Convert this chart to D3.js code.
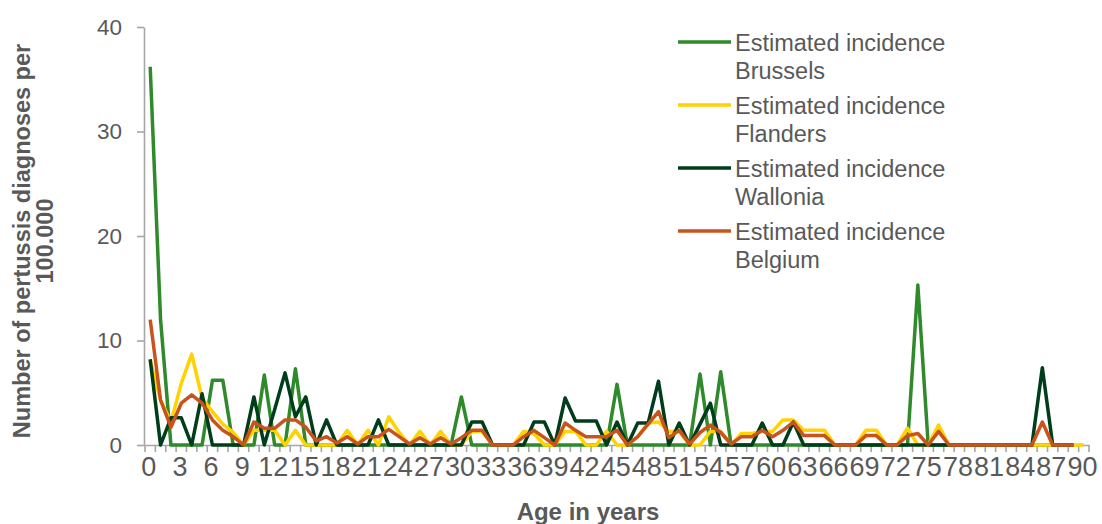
<!DOCTYPE html>
<html>
<head>
<meta charset="utf-8">
<script src="https://cdn.jsdelivr.net/npm/d3@7"></script>
<style>
  body { margin: 0; background: #fff; }
  svg { font-family: Arial, "Liberation Sans", sans-serif; }
  .axis text { fill: #595959; }
  .axis path, .axis line { stroke: #a6a6a6; stroke-width: 1.6; }
  .title { fill: #595959; font-weight: bold; }
  .legend text { fill: #595959; font-size: 23.5px; }
</style>
</head>
<body>
<div id="chart"></div>
<script>
// ages 0..90 on the category axis
const ages = d3.range(0, 91);
const tickLabels = ages.filter(a => a % 3 === 0);
const yTicks = [0, 10, 20, 30, 40];

const brussels = [
  36.2, 12, 0, 0, 0, 0, 6.2, 6.2, 0, 0,
  0, 6.7, 0, 0, 7.3, 0, 0, 0, 0, 0,
  0, 0, 0, 0, 0, 0, 0, 0, 0, 0,
  4.6, 0, 0, 0, 0, 0, 0, 0, 0, 0,
  0, 0, 0, 0, 0, 5.8, 0, 0, 0, 0,
  0, 0, 0, 6.8, 0, 7.0, 0, 0, 0, 0,
  0, 0, 0, 0, 0, 0, 0, 0, 0, 0,
  0, 0, 0, 0, 15.3, 0, 0, 0, 0, 0,
  0, 0, 0, 0, 0, 0, 0, 0, 0, 0
];
const flanders = [
  8.1, 4.3, 2.2, 5.9, 8.7, 4.5, 3.2, 2.0, 1.2, 0,
  1.4, 1.4, 1.4, 0, 1.4, 0, 0, 0, 0, 1.4,
  0, 1.4, 0, 2.7, 1.2, 0, 1.3, 0, 1.3, 0,
  0, 1.3, 1.3, 0, 0, 0, 1.3, 1.1, 0, 0,
  1.3, 1.3, 0, 0, 1.3, 0, 0, 0.8, 2.1, 2.2,
  1.3, 1.3, 0, 0, 1.3, 1.3, 0, 1.1, 1.1, 1.3,
  1.3, 2.4, 2.4, 1.4, 1.4, 1.4, 0, 0, 0, 1.4,
  1.4, 0, 0, 1.6, 0, 0, 1.9, 0, 0, 0,
  0, 0, 0, 0, 0, 0, 0, 0, 0, 0,
  0
];
const wallonia = [
  8.2, 0, 2.6, 2.6, 0, 4.9, 0, 0, 0, 0,
  4.6, 0, 3.4, 6.9, 2.7, 4.6, 0, 2.4, 0, 0,
  0, 0, 2.4, 0, 0, 0, 0, 0, 0, 0,
  0, 2.2, 2.2, 0, 0, 0, 0, 2.2, 2.2, 0,
  4.5, 2.3, 2.3, 2.3, 0, 2.2, 0, 2.1, 2.1, 6.1,
  0, 2.1, 0, 2.0, 4.0, 0, 0, 0, 0, 2.1,
  0, 0, 2.2, 0, 0, 0, 0, 0, 0, 0,
  0, 0, 0, 0, 0, 0, 0, 0, 0, 0,
  0, 0, 0, 0, 0, 0, 7.4, 0, 0, 0
];
const belgium = [
  12, 4.3, 1.7, 4.0, 4.8, 4.0, 2.4, 1.4, 0.8, 0,
  2.2, 1.6, 1.6, 2.4, 2.4, 1.7, 0.4, 0.8, 0.2, 0.8,
  0.1, 0.8, 0.8, 1.5, 0.8, 0.1, 0.7, 0.1, 0.7, 0.1,
  0.7, 1.4, 1.4, 0, 0, 0, 0.8, 1.4, 0.7, 0,
  2.1, 1.4, 0.8, 0.8, 0.8, 1.4, 0, 0.8, 2.0, 3.2,
  0.7, 1.4, 0.1, 1.2, 1.9, 1.2, 0.1, 0.8, 0.8, 1.4,
  0.8, 1.4, 2.2, 0.9, 0.9, 0.9, 0, 0, 0, 0.9,
  0.9, 0, 0, 0.9, 1.1, 0, 1.3, 0, 0, 0,
  0, 0, 0, 0, 0, 0, 2.2, 0, 0, 0
];

const seriesNames = [
  'Estimated incidence Brussels',
  'Estimated incidence Flanders',
  'Estimated incidence Wallonia',
  'Estimated incidence Belgium'
];
const seriesValues = [brussels, flanders, wallonia, belgium];
const colors = ['#2e8a2b', '#ffd200', '#003d1a', '#c9531c'];

const width = 1102;
const height = 524;
const margin = { top: 27, right: 13, bottom: 79, left: 145 };

const svg = d3.select('#chart')
  .append('svg')
  .attr('width', width)
  .attr('height', height);

const x = d3.scaleBand()
  .domain(ages)
  .range([margin.left, width - margin.right])
  .paddingInner(0)
  .paddingOuter(0);

const y = d3.scaleLinear()
  .domain([0, 40])
  .range([height - margin.bottom, margin.top]);

const cx = a => x(a) + x.bandwidth() / 2;

// y axis
const yAxis = svg.append('g')
  .attr('class', 'axis')
  .attr('transform', `translate(${margin.left - 1},0)`)
  .call(d3.axisLeft(y).tickValues(yTicks).tickSize(7).tickPadding(15).tickSizeOuter(0));
yAxis.selectAll('text').style('font-size', '22.5px');

// x axis: labels every 3 years, tick marks between categories
const xAxis = svg.append('g')
  .attr('class', 'axis')
  .attr('transform', `translate(0,${y(0)})`)
  .call(d3.axisBottom(x).tickValues(tickLabels).tickSize(0).tickPadding(12).tickSizeOuter(0));
xAxis.selectAll('.tick line').remove();
xAxis.selectAll('text').style('font-size', '27px').attr('dx', '-0.05em');
xAxis.selectAll('line.sep')
  .data(ages.concat([null]))
  .enter()
  .append('line')
  .attr('class', 'sep')
  .attr('x1', d => d === null ? x.range()[1] : x(d))
  .attr('x2', d => d === null ? x.range()[1] : x(d))
  .attr('y1', 0)
  .attr('y2', 7);

// lines
const line = d3.line()
  .x((d, i) => cx(ages[i]))
  .y(d => y(d));

svg.append('g')
  .selectAll('path')
  .data(seriesValues)
  .enter()
  .append('path')
  .attr('fill', 'none')
  .attr('stroke', (d, i) => colors[i])
  .attr('stroke-width', 3.5)
  .attr('stroke-linejoin', 'round')
  .attr('d', line);

// axis titles
svg.append('text')
  .attr('class', 'title')
  .attr('text-anchor', 'middle')
  .style('font-size', '24px')
  .attr('x', 588)
  .attr('y', 520)
  .text('Age in years');

const yTitle = svg.append('text')
  .attr('class', 'title')
  .attr('text-anchor', 'middle')
  .style('font-size', '23.5px')
  .attr('transform', 'translate(30,241) rotate(-90)');
yTitle.append('tspan').attr('x', 0).attr('y', 0).text('Number of pertussis diagnoses per');
yTitle.append('tspan').attr('x', 0).attr('y', 23).text('100.000');

// legend
const legend = svg.append('g')
  .attr('class', 'legend')
  .attr('transform', 'translate(678,42)');

const item = legend.selectAll('g')
  .data(seriesNames)
  .enter()
  .append('g')
  .attr('transform', (d, i) => `translate(0,${i * 63})`);

item.append('line')
  .attr('x1', 0)
  .attr('x2', 53)
  .attr('stroke', (d, i) => colors[i])
  .attr('stroke-width', 3.5);

item.append('text')
  .attr('x', 57)
  .attr('y', 9)
  .text(d => d.split(' ').slice(0, 2).join(' '));

item.append('text')
  .attr('x', 57)
  .attr('y', 37)
  .text(d => d.split(' ')[2]);
</script>
</body>
</html>
